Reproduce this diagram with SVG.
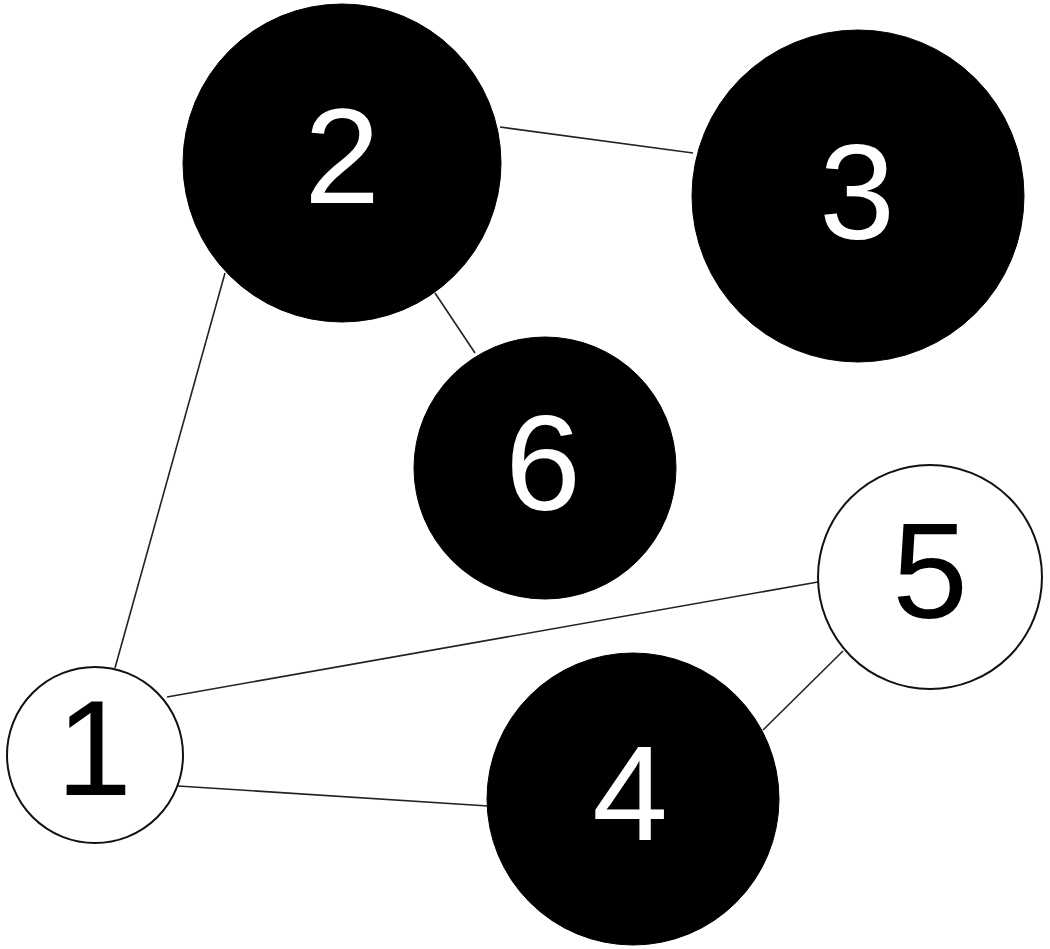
<svg xmlns="http://www.w3.org/2000/svg" width="1050" height="949" viewBox="0 0 1050 949">
<style>
.edge{stroke:#222;stroke-width:1.6;fill:none}
.dark{fill:#000;stroke:#000;stroke-width:1}
.light{fill:#fff;stroke:#111;stroke-width:2}
.lbl{font-family:"Liberation Sans",Arial,sans-serif;font-size:136px;text-anchor:middle}
.wt{fill:#fff}
.bt{fill:#000}
</style>
<rect width="1050" height="949" fill="#fff"/>
<g id="edges">
<line class="edge" x1="115" y1="668" x2="225" y2="273"/>
<line class="edge" x1="500" y1="127" x2="693" y2="153"/>
<line class="edge" x1="435" y1="293" x2="475" y2="353"/>
<line class="edge" x1="167" y1="697" x2="818" y2="582"/>
<line class="edge" x1="178" y1="786" x2="488" y2="806"/>
<line class="edge" x1="763" y1="730" x2="843" y2="651"/>
</g>
<g id="node2"><circle class="dark" cx="342" cy="163" r="159"/><text class="lbl wt" x="342" y="203">2</text></g>
<g id="node3"><circle class="dark" cx="858" cy="196" r="166"/><text class="lbl wt" x="857" y="239">3</text></g>
<g id="node6"><circle class="dark" cx="545" cy="468" r="131"/><text class="lbl wt" x="543" y="510">6</text></g>
<g id="node5"><circle class="light" cx="930" cy="577" r="112"/><text class="lbl bt" x="930" y="618">5</text></g>
<g id="node1"><circle class="light" cx="95" cy="755" r="88"/><text class="lbl bt" x="94" y="795">1</text></g>
<g id="node4"><circle class="dark" cx="633" cy="799" r="146"/><text class="lbl wt" x="630" y="840">4</text></g>
</svg>
